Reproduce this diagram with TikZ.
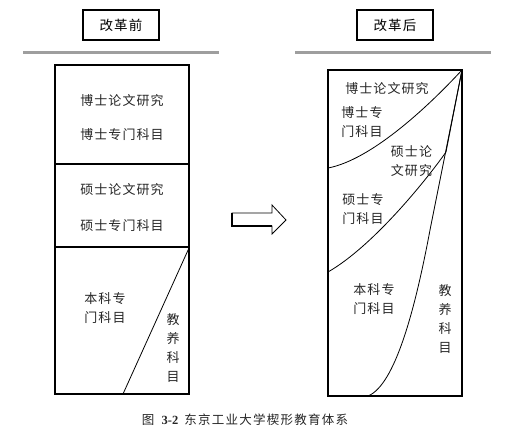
\documentclass[tikz,border=0pt]{standalone}
\usepackage{fontspec}
\setmainfont{Liberation Serif}
\newfontfamily\cjk[LetterSpace=8]{Noto Sans CJK SC}
\newfontfamily\cjkcap[LetterSpace=10]{Noto Sans CJK SC}
\begin{document}
\begin{tikzpicture}[x=1pt,y=-1pt,
  frame/.style={draw=black,line width=1.3pt},
  divider/.style={draw=black,line width=1.3pt},
  curve/.style={draw=black,line width=0.8pt},
  grayrule/.style={draw=black!38,line width=3pt},
  lbl/.style={inner sep=0pt,text=black!85,font=\cjk\fontsize{13}{19}\selectfont,align=left},
  vlbl/.style={inner sep=0pt,text=black!85,font=\cjk\fontsize{13}{19}\selectfont,align=center},
  hdr/.style={draw=black,line width=1.2pt,minimum width=76pt,minimum height=30pt,inner sep=0pt,font=\cjk\fontsize{13.5}{15}\selectfont}]
\useasboundingbox (0,0) rectangle (519,439);

% headers
\node[hdr] (hl) at (121,25) {改革前};
\node[hdr] (hr) at (395,25) {改革后};
\coordinate (gl1) at (23,52);
\coordinate (gl2) at (219,52);
\coordinate (gr1) at (295,52);
\coordinate (gr2) at (491,52);
\draw[grayrule] (gl1) -- (gl2);
\draw[grayrule] (gr1) -- (gr2);

% left column
\coordinate (L1) at (55,65);
\coordinate (L2) at (189,394);
\draw[frame] (L1) rectangle (L2);
\coordinate (d1a) at (55,164);
\coordinate (d1b) at (189,164);
\coordinate (d2a) at (55,247);
\coordinate (d2b) at (189,247);
\draw[divider] (d1a) -- (d1b);
\draw[divider] (d2a) -- (d2b);
\coordinate (diagT) at (189,248);
\coordinate (diagB) at (123,394);
\draw[curve] (diagT) -- (diagB);

\node[lbl] (l1) at (122,101) {博士论文研究};
\node[lbl] (l2) at (122,135) {博士专门科目};
\node[lbl] (l3) at (122,190) {硕士论文研究};
\node[lbl] (l4) at (122,226) {硕士专门科目};
\node[lbl] (l5) at (105,308.5) {本科专\\门科目};
\node[vlbl] (l6) at (173,348) {教\\养\\科\\目};

% arrow
\coordinate (a1) at (232,213);
\coordinate (a2) at (272,213);
\coordinate (a3) at (272,205);
\coordinate (a4) at (286,220);
\coordinate (a5) at (272,234);
\coordinate (a6) at (272,226);
\coordinate (a7) at (232,226);
\draw[line width=0.8pt,line join=miter] (a1) -- (a2) -- (a3) -- (a4) -- (a5) -- (a6) -- (a7) -- cycle;
\draw[line width=1.8pt] (a1) -- (a7) -- (a6);

% right column
\coordinate (R1) at (328,70);
\coordinate (R2) at (462,396);
\coordinate (RT) at (462,70);
\draw[frame] (R1) rectangle (R2);
\coordinate (c1L) at (328,168);
\draw[curve] (c1L) .. controls (370,160) and (425,110) .. (RT);
\coordinate (c2M) at (446,152);
\coordinate (c2L) at (328,272);
\draw[curve] (RT) -- (c2M) .. controls (430,175) and (375,245) .. (c2L);
\coordinate (c3M) at (430,230);
\coordinate (c3B) at (368,396);
\draw[curve] (RT) -- (c3M) .. controls (415,310) and (395,385) .. (c3B);

\node[lbl] (r1) at (387,89) {博士论文研究};
\node[lbl] (r2) at (362,122.5) {博士专\\门科目};
\node[lbl] (r3) at (411.5,161) {硕士论\\文研究};
\node[lbl] (r4) at (363,209) {硕士专\\门科目};
\node[lbl] (r5) at (374,299) {本科专\\门科目};
\node[vlbl] (r6) at (445,319) {教\\养\\科\\目};

% caption
\node[inner sep=0pt,text=black!85,font=\fontsize{12.5}{14}\selectfont] (cap) at (245,420) {{\cjkcap 图}\hspace{6pt}\textbf{3-2}\hspace{6pt}{\cjkcap 东京工业大学楔形教育体系}};
\end{tikzpicture}
\end{document}
